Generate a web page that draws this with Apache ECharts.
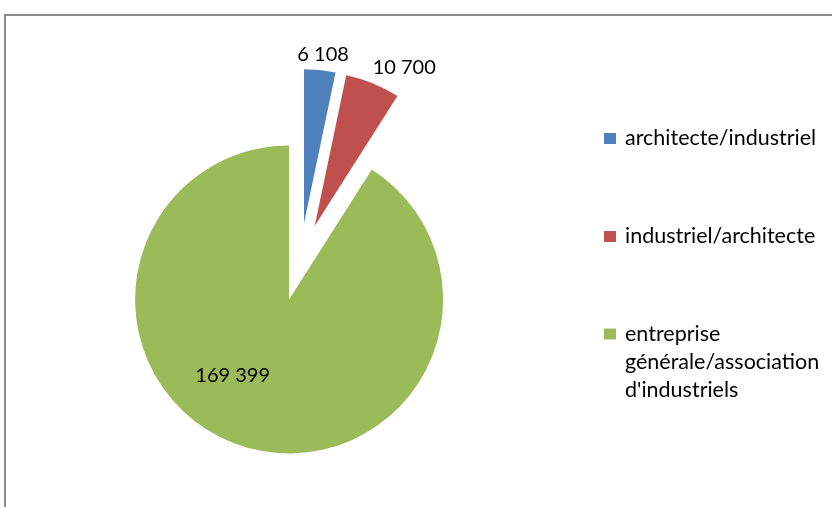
<!DOCTYPE html>
<html><head><meta charset="utf-8">
<script src="https://cdn.jsdelivr.net/npm/echarts@6/dist/echarts.min.js"></script>
<style>html,body{margin:0;padding:0;background:#fff}#c{width:832px;height:507px}</style>
</head><body><div id="c"></div>
<script>
const categories = ['architecte/industriel', 'industriel/architecte', "entreprise générale/association d'industriels"];
const values = [6108, 10700, 169399];
const colors = ['#4F81BD', '#C0504D', '#9BBB59'];

const fmt = v => String(v).replace(/\B(?=(\d{3})+(?!\d))/g, ' ');
const FONT = 'Lato';
const legendTops = [124.5, 222.5, 264];
// small label nudges (Excel "best fit" placement)
const labelShift = [[-28, -11], [-7, -11], [-34, -1]];

const chart = echarts.init(document.getElementById('c'), null, {renderer: 'canvas'});
chart.setOption({
  animation: false,
  backgroundColor: '#fff',
  graphic: [{
    type: 'rect', silent: true,
    shape: {x: 5, y: 15, width: 900, height: 600},
    style: {fill: 'none', stroke: '#8a8a8a', lineWidth: 2}
  }],
  legend: categories.map((name, i) => ({
    data: [name], orient: 'vertical', left: 604, top: legendTops[i], padding: 0,
    itemWidth: 12, itemHeight: 11, icon: 'rect', selectedMode: false,
    textStyle: {fontFamily: FONT, fontSize: 21.5, color: '#000', lineHeight: 28, padding: [0, 0, 0, 4]},
    formatter: n => (i === 2 ? '\n\n' + n.replace(/ /g, '\n') : n)
  })),
  series: [{
    type: 'pie', center: [300, 262], radius: 154, startAngle: 90, clockwise: true,
    selectedMode: 'multiple', selectedOffset: 39, avoidLabelOverlap: false,
    itemStyle: {borderWidth: 0},
    data: categories.map((n, i) => ({
      name: n, value: values[i], selected: true,
      itemStyle: {color: colors[i]},
      label: {position: i === 2 ? 'inside' : 'outside'}
    })),
    label: {fontFamily: FONT, fontSize: 20, color: '#000', formatter: p => fmt(p.value)},
    labelLine: {show: false, length: 5, length2: 0},
    labelLayout: p => ({hideOverlap: false, moveOverlap: null, dx: labelShift[p.dataIndex][0], dy: labelShift[p.dataIndex][1]}),
    emphasis: {disabled: true}
  }]
});
</script></body></html>
